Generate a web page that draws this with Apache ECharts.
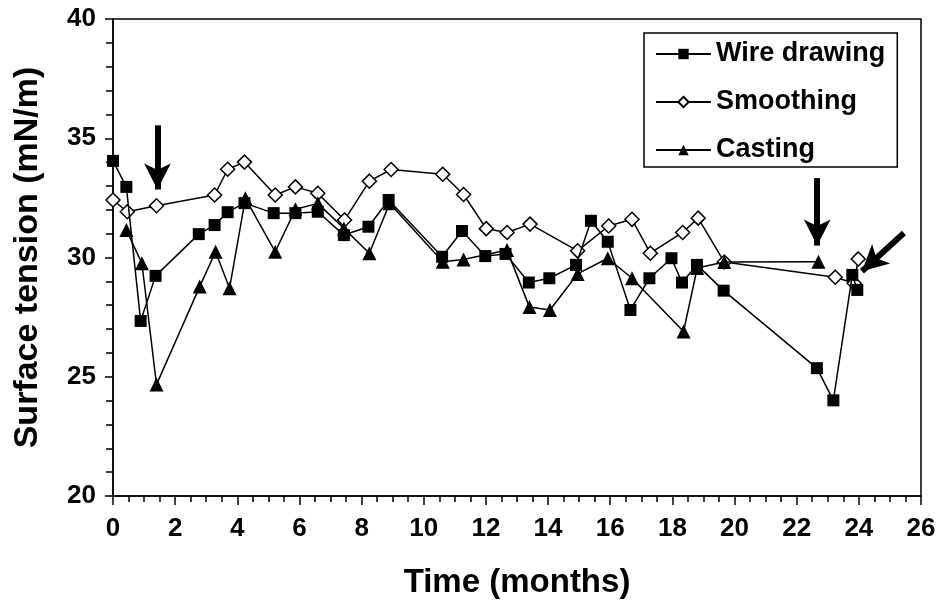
<!DOCTYPE html>
<html>
<head>
<meta charset="utf-8">
<script src="https://cdn.jsdelivr.net/npm/echarts@6/dist/echarts.min.js"></script>
<style>
  html, body { margin: 0; padding: 0; background: #fff; }
  #chart { width: 940px; height: 614px; }
</style>
</head>
<body>
<div id="chart"></div>
<script>
// data (time in months, surface tension in mN/m)
var wireTime = [0, 0.43, 0.89, 1.37, 2.76, 3.27, 3.69, 4.23, 5.17, 5.87, 6.59, 7.43, 8.22, 8.87,
  10.59, 11.23, 11.98, 12.63, 13.38, 14.04, 14.9, 15.38, 15.92, 16.65, 17.26, 17.97, 18.31, 18.79,
  19.65, 22.65, 23.18, 23.79, 23.95]
var wireTension = [34.05, 32.96, 27.34, 29.23, 30.98, 31.36, 31.9, 32.28, 31.86, 31.86, 31.92, 30.94, 31.29, 32.41,
  30.03, 31.11, 30.06, 30.15, 28.95, 29.13, 29.69, 31.54, 30.66, 27.8, 29.13, 29.97, 28.95, 29.69,
  28.61, 25.36, 24.01, 29.27, 28.64]

var smoothTime = [0, 0.46, 1.4, 3.27, 3.69, 4.23, 5.22, 5.87, 6.59, 7.45, 8.25, 8.95, 10.61, 11.28,
  12.01, 12.68, 13.42, 14.95, 15.95, 16.7, 17.29, 18.33, 18.83, 19.67, 23.24, 23.85, 23.98]
var smoothTension = [32.41, 31.92, 32.17, 32.62, 33.7, 34.0, 32.62, 32.96, 32.69, 31.57, 33.2, 33.69, 33.49, 32.64,
  31.21, 31.05, 31.4, 30.28, 31.32, 31.6, 30.18, 31.05, 31.65, 29.81, 29.17, 28.92, 29.94]

var castTime = [0.43, 0.93, 1.4, 2.79, 3.3, 3.75, 4.26, 5.22, 5.87, 6.59, 7.43, 8.25, 8.9, 10.61,
  11.28, 12.68, 13.4, 14.06, 14.95, 15.92, 16.7, 18.36, 18.8, 19.67, 22.7]
var castTension = [31.15, 29.76, 24.67, 28.78, 30.24, 28.71, 32.48, 30.24, 32.02, 32.27, 31.22, 30.18, 32.27, 29.82,
  29.92, 30.31, 27.92, 27.8, 29.31, 29.97, 29.13, 26.9, 29.56, 29.81, 29.82]

var seriesNames = ['Wire drawing', 'Smoothing', 'Casting']

// annotation arrows: [startTime, startTension, tipTime, tipTension]
var arrows = [
  [1.43, 35.54, 1.43, 32.85],
  [22.66, 33.33, 22.66, 30.5],
  [25.45, 31.03, 24.1, 29.42]
]

var FONT = '"Liberation Sans", Arial, sans-serif'

function zip(xs, ys) {
  return xs.map(function (x, i) { return [x, ys[i]] })
}

var chart = echarts.init(document.getElementById('chart'))

var option = {
  animation: false,
  grid: {
    left: 113,
    right: 19,
    top: 19,
    bottom: 118,
    show: true,
    borderColor: '#000',
    borderWidth: 1.5
  },
  legend: {
    data: seriesNames,
    orient: 'vertical',
    left: 644,
    top: 33,
    itemWidth: 55,
    itemHeight: 13,
    itemGap: 20,
    padding: [7, 12, 3, 11],
    borderColor: '#000',
    borderWidth: 1.5,
    backgroundColor: '#fff',
    textStyle: {
      fontFamily: FONT,
      fontWeight: 'bold',
      fontSize: 27,
      lineHeight: 28,
      color: '#000'
    }
  },
  xAxis: {
    type: 'value',
    min: 0,
    max: 26,
    interval: 2,
    name: 'Time (months)',
    nameLocation: 'middle',
    nameGap: 70,
    nameTextStyle: { fontFamily: FONT, fontWeight: 'bold', fontSize: 33, color: '#000' },
    axisLine: { lineStyle: { color: '#000', width: 1.5 } },
    axisTick: { inside: false, length: 9, lineStyle: { color: '#000', width: 1.5 } },
    minorTick: { show: true, splitNumber: 4, length: 6, lineStyle: { color: '#000', width: 1.5 } },
    axisLabel: { fontFamily: FONT, fontWeight: 'bold', fontSize: 26, color: '#000', margin: 20 },
    splitLine: { show: false }
  },
  yAxis: {
    type: 'value',
    min: 20,
    max: 40,
    interval: 5,
    name: 'Surface tension (mN/m)',
    nameLocation: 'middle',
    nameGap: 68,
    nameTextStyle: { fontFamily: FONT, fontWeight: 'bold', fontSize: 34, color: '#000' },
    axisLine: { show: true, lineStyle: { color: '#000', width: 1.5 } },
    axisTick: { show: true, inside: false, length: 8, lineStyle: { color: '#000', width: 1.5 } },
    minorTick: { show: true, splitNumber: 5, length: 7, lineStyle: { color: '#000', width: 1.5 } },
    axisLabel: { fontFamily: FONT, fontWeight: 'bold', fontSize: 26, color: '#000', margin: 17 },
    splitLine: { show: false }
  },
  series: [
    {
      name: seriesNames[0],
      type: 'line',
      data: zip(wireTime, wireTension),
      symbol: 'rect',
      symbolSize: 12,
      z: 3,
      lineStyle: { color: '#000', width: 1.5 },
      itemStyle: { color: '#000', borderColor: '#000', borderWidth: 0 },
      markLine: {
        silent: true,
        symbol: ['none', 'arrow'],
        symbolSize: [20, 26],
        label: { show: false },
        lineStyle: { color: '#000', width: 6, type: 'solid' },
        data: arrows.map(function (a) {
          return [{ coord: [a[0], a[1]] }, { coord: [a[2], a[3]] }]
        })
      }
    },
    {
      name: seriesNames[1],
      type: 'line',
      data: zip(smoothTime, smoothTension),
      symbol: 'diamond',
      symbolSize: 14,
      z: 2,
      lineStyle: { color: '#000', width: 1.5 },
      itemStyle: { color: '#fff', borderColor: '#000', borderWidth: 1.5 }
    },
    {
      name: seriesNames[2],
      type: 'line',
      data: zip(castTime, castTension),
      symbol: 'triangle',
      symbolSize: 14,
      z: 4,
      lineStyle: { color: '#000', width: 1.5 },
      itemStyle: { color: '#000', borderColor: '#000', borderWidth: 0 }
    }
  ]
}

chart.setOption(option)
</script>
</body>
</html>
